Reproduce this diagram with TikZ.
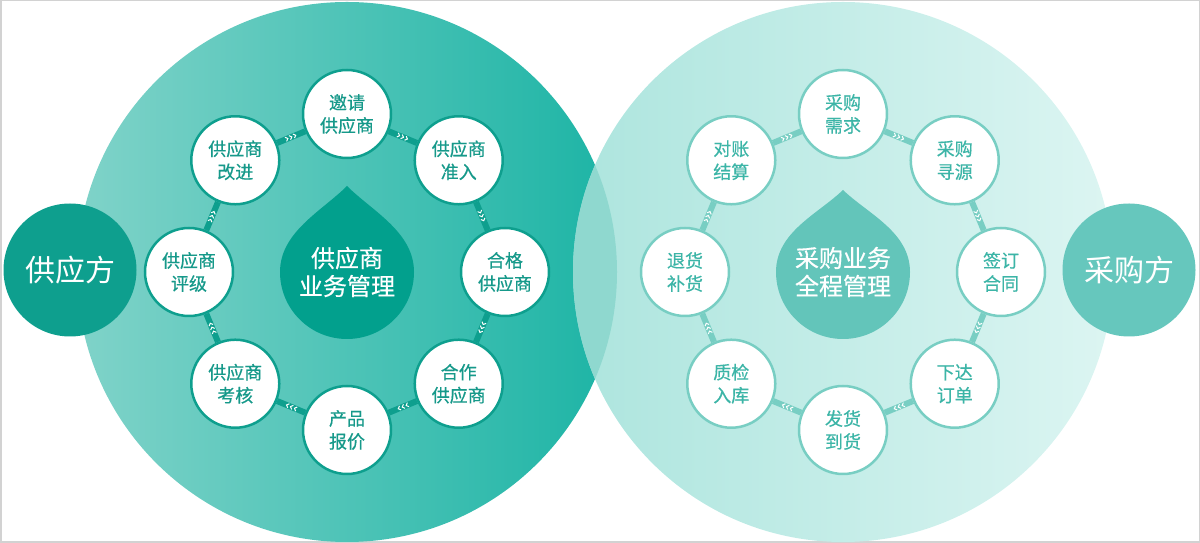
\documentclass[tikz,border=0pt]{standalone}
\usepackage{fontspec}
\newfontfamily\cjk{Noto Sans CJK SC}
\newfontfamily\cjkmid[FakeBold=0.5]{Noto Sans CJK SC}
\usetikzlibrary{calc,decorations.markings}

\definecolor{supDark}{HTML}{0E9F8E}
\definecolor{supDrop}{HTML}{02A08D}
\definecolor{supLight}{HTML}{80D3C9}
\definecolor{supMid}{HTML}{1CB4A5}
\definecolor{supText}{HTML}{16998A}
\definecolor{lensCol}{HTML}{8FD8CF}
\definecolor{purLight}{HTML}{ADE5DE}
\definecolor{purPale}{HTML}{DCF5F2}
\definecolor{purDark}{HTML}{66C7BD}
\definecolor{purDrop}{HTML}{63C5BA}
\definecolor{purLine}{HTML}{78CEC3}
\definecolor{purText}{HTML}{3CB5A7}

% small white chevron on a connector
\newcommand{\chevmark}{\draw[white, line width=1pt] (-1.5pt,2.2pt) -- (0.7pt,0pt) -- (-1.5pt,-2.2pt);}

\begin{document}
\begin{tikzpicture}[
    x=1pt, y=1pt,
    stepL/.style={circle, draw=supDark, line width=2.5pt, fill=white, minimum size=88pt, inner sep=0pt, align=center, text=supText, font=\cjkmid\fontsize{18}{23}\selectfont},
    stepR/.style={stepL, draw=purLine, text=purText},
    side/.style={circle, minimum size=133pt, inner sep=0pt, text=white, font=\cjk\fontsize{30}{36}\selectfont},
    core/.style={align=center, text=white, font=\cjkmid\fontsize{24}{28}\selectfont},
    link/.style={line width=6pt, postaction={decorate}, decoration={markings,
        mark=at position 0.36 with {\chevmark},
        mark=at position 0.5 with {\chevmark},
        mark=at position 0.64 with {\chevmark}}}
]
\useasboundingbox (0,0) rectangle (1200,543);
\draw[gray!35, line width=1.5pt] (0.75,0.75) rectangle (1199.25,542.25);

\coordinate (lc) at (347,271);
\coordinate (rc) at (843,271);

% two big discs
\shade[left color=supLight, right color=supMid] (lc) circle[radius=270];
\shade[left color=purLight, right color=purPale] (rc) circle[radius=270];
\begin{scope}
  \clip (lc) circle[radius=270];
  \fill[lensCol] (rc) circle[radius=270];
\end{scope}

% drops in the middle
\fill[supDrop, shift={(lc)}] (0,86) .. controls (-25,61) and (-67,40) .. (-67,0)
    arc[start angle=180, end angle=360, radius=67] .. controls (67,40) and (25,61) .. (0,86) -- cycle;
\fill[purDrop, shift={(rc)}] (0,82) .. controls (-25,58) and (-67,40) .. (-67,0)
    arc[start angle=180, end angle=360, radius=67] .. controls (67,40) and (25,58) .. (0,82) -- cycle;
\node[core] (lcore) at (lc) {供应商\\业务管理};
\node[core] (rcore) at (rc) {采购业务\\全程管理};

% parties
\node[side, fill=supDark] (sup) at (70,273) {供应方};
\node[side, fill=purDark] (pur) at (1129,273) {采购方};

% supplier cycle
\node[stepL] (yq) at ($(lc)+(90:158)$) {邀请\\供应商};
\node[stepL] (zr) at ($(lc)+(45:158)$) {供应商\\准入};
\node[stepL] (hg) at ($(lc)+(0:158)$) {合格\\供应商};
\node[stepL] (hz) at ($(lc)+(-45:158)$) {合作\\供应商};
\node[stepL] (bj) at ($(lc)+(-90:158)$) {产品\\报价};
\node[stepL] (kh) at ($(lc)+(-135:158)$) {供应商\\考核};
\node[stepL] (pj) at ($(lc)+(180:158)$) {供应商\\评级};
\node[stepL] (gj) at ($(lc)+(135:158)$) {供应商\\改进};
\draw[link, supDark] (yq) -- (zr);
\draw[link, supDark] (zr) -- (hg);
\draw[link, supDark] (hg) -- (hz);
\draw[link, supDark] (hz) -- (bj);
\draw[link, supDark] (bj) -- (kh);
\draw[link, supDark] (kh) -- (pj);
\draw[link, supDark] (pj) -- (gj);
\draw[link, supDark] (gj) -- (yq);

% purchase cycle
\node[stepR] (xq) at ($(rc)+(90:158)$) {采购\\需求};
\node[stepR] (xy) at ($(rc)+(45:158)$) {采购\\寻源};
\node[stepR] (qd) at ($(rc)+(0:158)$) {签订\\合同};
\node[stepR] (xd) at ($(rc)+(-45:158)$) {下达\\订单};
\node[stepR] (fh) at ($(rc)+(-90:158)$) {发货\\到货};
\node[stepR] (zj) at ($(rc)+(-135:158)$) {质检\\入库};
\node[stepR] (th) at ($(rc)+(180:158)$) {退货\\补货};
\node[stepR] (dz) at ($(rc)+(135:158)$) {对账\\结算};
\draw[link, purLine] (xq) -- (xy);
\draw[link, purLine] (xy) -- (qd);
\draw[link, purLine] (qd) -- (xd);
\draw[link, purLine] (xd) -- (fh);
\draw[link, purLine] (fh) -- (zj);
\draw[link, purLine] (zj) -- (th);
\draw[link, purLine] (th) -- (dz);
\draw[link, purLine] (dz) -- (xq);
\end{tikzpicture}
\end{document}
